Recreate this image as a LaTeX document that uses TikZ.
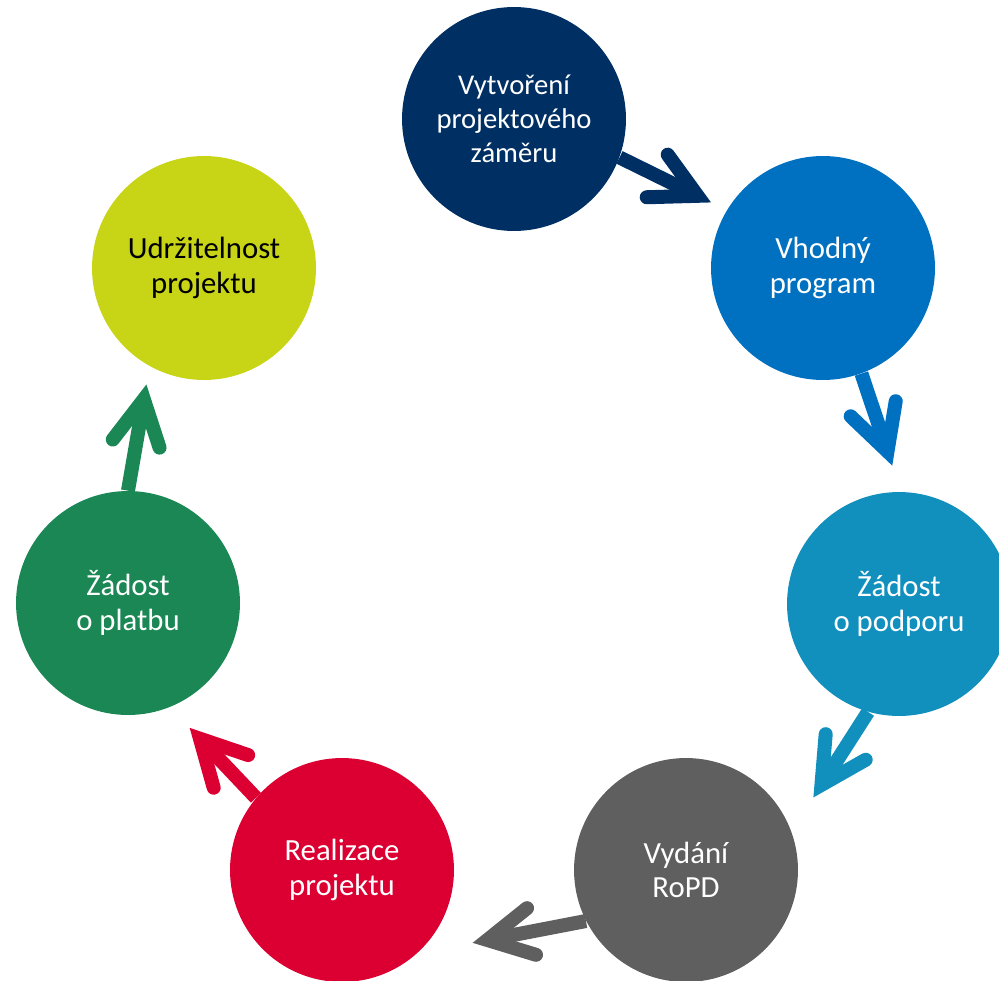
\documentclass[tikz,border=0pt]{standalone}
\usepackage{fontspec}
\setmainfont{Carlito}
\usepackage{tikz}
\usetikzlibrary{arrows.meta}
\definecolor{navy}{RGB}{0,48,99}
\definecolor{modra}{RGB}{0,112,192}
\definecolor{tyrkys}{RGB}{17,144,190}
\definecolor{seda}{RGB}{95,95,95}
\definecolor{cervena}{RGB}{220,0,50}
\definecolor{zelena}{RGB}{26,135,84}
\definecolor{limetka}{RGB}{200,212,22}

\begin{document}
\begin{tikzpicture}[x=0.02cm,y=-0.02cm, inner sep=0mm,
  >={Straight Barb[length=0.9cm,width=0.95cm,line cap=round,line join=miter]},
  krok/.style={circle,minimum size=4.48cm,align=center,text=white,font=\fontsize{17.5}{19.6}\selectfont},
  sipka/.style={->,line width=0.28cm}]
\useasboundingbox (0,0) rectangle (999,980);
\clip (0,0) rectangle (999,980);
\node (zamer) at (514,119) [krok,fill=navy,font=\fontsize{16.3}{19.4}\selectfont] {Vytvoření\\projektového\\záměru};
\node (program) at (823,268) [krok,fill=modra] {Vhodný\\program};
\node (podpora) at (899,604) [krok,fill=tyrkys] {Žádost\\o podporu};
\node (ropd) at (686,870) [krok,fill=seda] {Vydání\\RoPD};
\node (realizace) at (342,870) [krok,fill=cervena] {Realizace\\projektu};
\node (platba) at (128,603) [krok,fill=zelena] {Žádost\\o platbu};
\node (udrz) at (204,268) [krok,fill=limetka,text=black] {Udržitelnost\\projektu};
\draw[sipka,navy,shorten >=0.35cm] (zamer.-20) -- (program.149);
\draw[sipka,modra,shorten >=0.55cm] (program.-70) -- (podpora.89);
\draw[sipka,tyrkys,shorten >=0.81cm] (podpora.-106) -- (ropd.20);
\draw[sipka,seda,shorten >=1.13cm] (ropd.207) -- (realizace.-48);
\draw[sipka,cervena,shorten >=0.57cm] (realizace.140) -- (platba.-68);
\draw[sipka,zelena,shorten >=0.37cm] (platba.90) -- (udrz.-119);
\end{tikzpicture}
\end{document}
